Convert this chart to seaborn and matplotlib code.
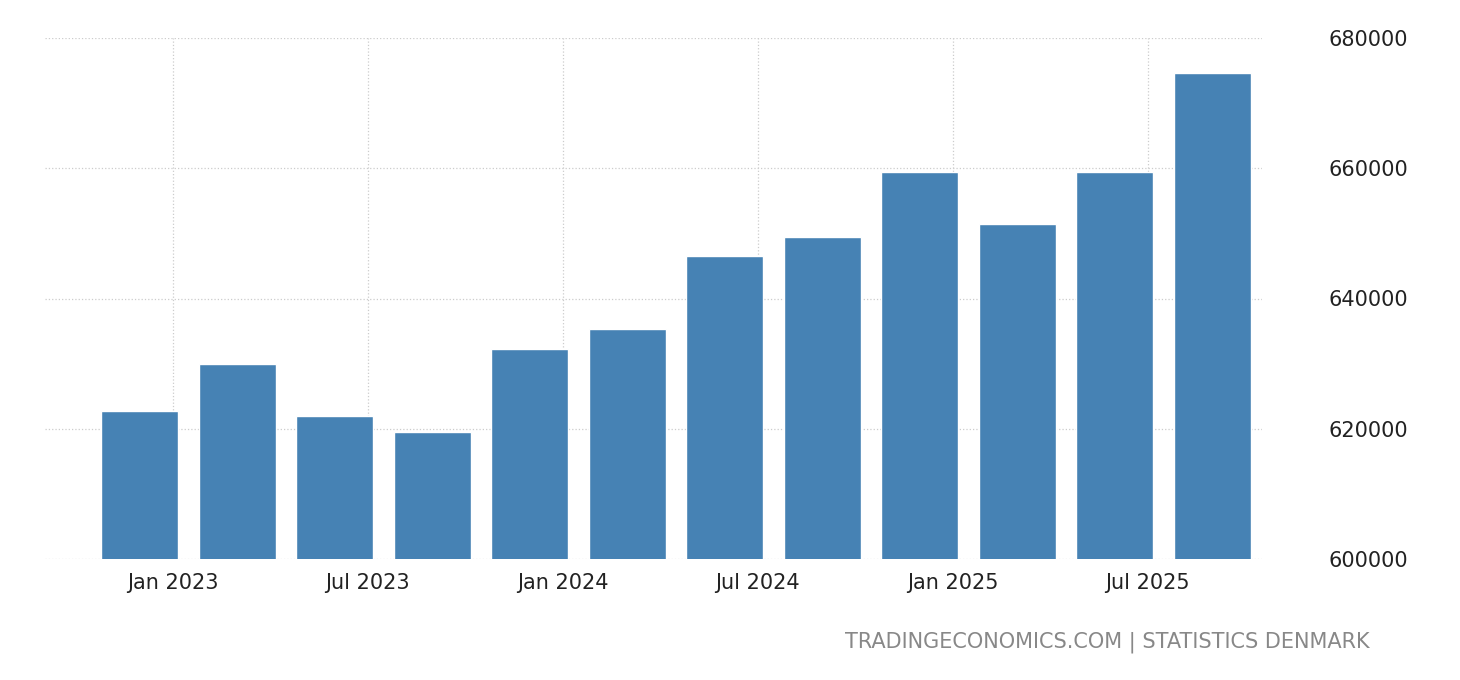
import matplotlib
matplotlib.use("Agg")
import matplotlib.pyplot as plt
import seaborn as sns
import pandas as pd

quarters = ["2022Q4", "2023Q1", "2023Q2", "2023Q3", "2023Q4", "2024Q1",
            "2024Q2", "2024Q3", "2024Q4", "2025Q1", "2025Q2", "2025Q3"]
values = [622700, 629900, 622000, 619500, 632200, 635300,
          646500, 649400, 659400, 651400, 659400, 674600]
tick_labels = ["Jan 2023", "Jul 2023", "Jan 2024", "Jul 2024", "Jan 2025", "Jul 2025"]

df = pd.DataFrame({"quarter": quarters, "value": values})

sns.set_style("white")
plt.rcParams['font.family'] = ['DejaVu Sans']

fig = plt.figure(figsize=(14.6, 6.8), dpi=100)
ax = fig.add_axes([45 / 1460, 1 - 559 / 680, (1262 - 45) / 1460, (559 - 38) / 680])

sns.barplot(data=df, x="quarter", y="value", color="#4682b4", saturation=1,
            width=0.79, ax=ax, zorder=2)

ax.set_ylim(600000, 680000)
ax.set_xlim(-0.97, 11.51)
ax.set_yticks([600000, 620000, 640000, 660000, 680000])
ax.set_yticklabels([str(v) for v in [600000, 620000, 640000, 660000, 680000]])
ax.set_xticks([0.34 + 2 * i for i in range(len(tick_labels))])
ax.set_xticklabels(tick_labels)
ax.yaxis.tick_right()
ax.tick_params(axis="both", length=0, labelsize=15, colors="#222222")
ax.tick_params(axis="y", pad=48)
ax.tick_params(axis="x", pad=10)
ax.grid(True, color="#cccccc", linestyle=":", linewidth=0.9, zorder=0)
ax.set_axisbelow(True)
for s in ax.spines.values():
    s.set_visible(False)
ax.set_xlabel("")
ax.set_ylabel("")

fig.text(1370 / 1460, 1 - 642 / 680, "TRADINGECONOMICS.COM | STATISTICS DENMARK",
         ha="right", va="center", fontsize=15, color="#888888")

fig.savefig("out.png", dpi=100)
